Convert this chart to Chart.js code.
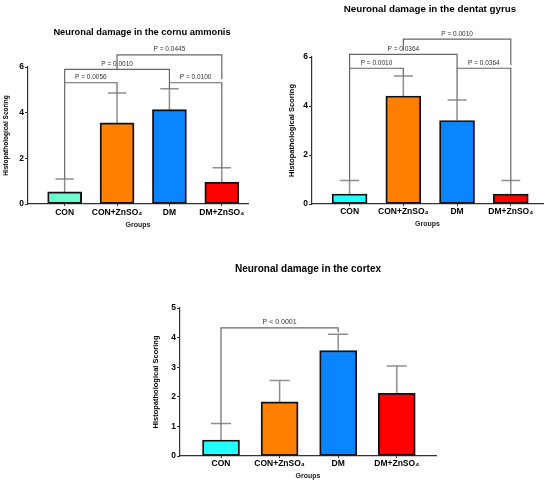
<!DOCTYPE html>
<html>
<head>
<meta charset="utf-8">
<script src="https://cdn.jsdelivr.net/npm/chart.js@4.4.1/dist/chart.umd.min.js"></script>
<style>
    html, body { margin: 0; padding: 0; background: #fff; }
    #wrap { position: relative; width: 550px; height: 483px; overflow: hidden; }
    canvas { position: absolute; }
</style>
</head>
<body>
<div id="wrap">
    <canvas id="caChart" style="left:0;top:0;width:280px;height:232px"></canvas>
    <canvas id="dgChart" style="left:280px;top:0;width:270px;height:232px"></canvas>
    <canvas id="cxChart" style="left:150px;top:250px;width:300px;height:233px"></canvas>
</div>
<script>
const groups = ['CON', 'CON+ZnSO\u2084', 'DM', 'DM+ZnSO\u2084'];

// cornu ammonis
const caMeans = [0.53, 3.55, 4.13, 0.96];
const caSD = [0.57, 1.31, 0.92, 0.63];
const caColors = ['#6CF9D0', '#FF8000', '#0A84FF', '#FF0000'];
// [from, to, height, left leg bottom, right leg bottom, label]
const caBrackets = [
    [0, 1, 5.31, 1.10, 4.86, 'P = 0.0056'],
    [0, 2, 5.90, 5.31, 5.31, 'P = 0.0010'],
    [2, 3, 5.31, 5.05, 1.59, 'P = 0.0100'],
    [1, 3, 6.53, 5.90, 5.46, 'P = 0.0445']
];

// dentat gyrus
const dgMeans = [0.41, 4.41, 3.41, 0.41];
const dgSD = [0.55, 0.81, 0.83, 0.55];
const dgColors = ['#22FFFF', '#FF8000', '#0A84FF', '#FF0000'];
const dgBrackets = [
    [0, 1, 5.54, 0.96, 5.22, 'P = 0.0010'],
    [0, 2, 6.11, 5.54, 5.54, 'P = 0.0364'],
    [2, 3, 5.54, 4.24, 0.96, 'P = 0.0364'],
    [1, 3, 6.73, 6.28, 5.67, 'P = 0.0010']
];

// cortex
const cxMeans = [0.54, 1.83, 3.56, 2.12];
const cxSD = [0.56, 0.72, 0.55, 0.92];
const cxColors = ['#22FFFF', '#FF8000', '#0A84FF', '#FF0000'];
const cxBrackets = [
    [0, 2, 4.33, 1.10, 4.18, 'P < 0.0001']
];

const FONT = "'Liberation Sans', Arial, sans-serif";

// error bars: mean -> mean + SD, gray with a cap
const errorBars = {
    id: 'errorBars',
    beforeDatasetsDraw(chart) {
        const ctx = chart.ctx;
        const y = chart.scales.y;
        const ds = chart.data.datasets[0];
        const meta = chart.getDatasetMeta(0);
        ctx.save();
        ctx.strokeStyle = '#8e8e8e';
        ctx.lineWidth = 1.5;
        meta.data.forEach(function(bar, i) {
            const top = y.getPixelForValue(ds.data[i].y + ds.sd[i]);
            const half = bar.width * 0.27;
            ctx.beginPath();
            ctx.moveTo(bar.x, bar.y);
            ctx.lineTo(bar.x, top);
            ctx.moveTo(bar.x - half, top);
            ctx.lineTo(bar.x + half, top);
            ctx.stroke();
        });
        ctx.restore();
    }
};

// significance brackets
const brackets = {
    id: 'brackets',
    afterDatasetsDraw(chart) {
        const ctx = chart.ctx;
        const x = chart.scales.x;
        const y = chart.scales.y;
        const ds = chart.data.datasets[0];
        ctx.save();
        ctx.strokeStyle = '#666';
        ctx.lineWidth = 1.2;
        ctx.fillStyle = '#333';
        ctx.font = ds.pFont + 'px ' + FONT;
        ctx.textAlign = 'center';
        ctx.textBaseline = 'bottom';
        ds.brackets.forEach(function(b) {
            const x1 = x.getPixelForValue(b[0]);
            const x2 = x.getPixelForValue(b[1]);
            const h = y.getPixelForValue(b[2]);
            ctx.beginPath();
            ctx.moveTo(x1, y.getPixelForValue(b[3]));
            ctx.lineTo(x1, h);
            ctx.lineTo(x2, h);
            ctx.lineTo(x2, y.getPixelForValue(b[4]));
            ctx.stroke();
            ctx.fillText(b[5], (x1 + x2) / 2, h - 2);
        });
        ctx.restore();
    }
};

// panel title
const panelTitle = {
    id: 'panelTitle',
    afterDraw(chart, args, opts) {
        const ctx = chart.ctx;
        ctx.save();
        ctx.fillStyle = '#000';
        ctx.font = 'bold ' + opts.size + 'px ' + FONT;
        ctx.textAlign = 'center';
        ctx.textBaseline = 'middle';
        ctx.fillText(opts.text, opts.x, opts.y);
        ctx.restore();
    }
};

function makeChart(id, p) {
    const canvas = document.getElementById(id);
    canvas.width = p.w;
    canvas.height = p.h;
    return new Chart(canvas.getContext('2d'), {
        type: 'bar',
        data: {
            datasets: [{
                data: p.means.map(function(v, i) { return { x: i, y: v }; }),
                sd: p.sd,
                brackets: p.brackets,
                pFont: p.pFont,
                backgroundColor: p.colors,
                borderColor: '#111',
                borderWidth: 1.9,
                borderSkipped: false,
                barThickness: p.barW
            }]
        },
        plugins: [errorBars, brackets, panelTitle],
        options: {
            responsive: false,
            animation: false,
            layout: { padding: p.padding },
            scales: {
                x: {
                    type: 'linear',
                    min: -0.7,
                    max: p.xMax,
                    offset: false,
                    afterBuildTicks: function(s) {
                        s.ticks = groups.map(function(g, i) { return { value: i }; });
                    },
                    afterFit: function(s) { s.height = p.xH; },
                    ticks: {
                        callback: function(v) { return groups[v]; },
                        autoSkip: false,
                        maxRotation: 0,
                        color: '#000',
                        padding: p.xPad,
                        font: { family: FONT, size: 8.5, weight: 'bold' }
                    },
                    grid: { offset: false, drawOnChartArea: false, drawTicks: true, tickLength: 2, color: '#333' },
                    border: { color: '#333', width: 1.2 },
                    title: {
                        display: true,
                        text: 'Groups',
                        color: '#222',
                        font: { family: FONT, size: 7, weight: 'bold' },
                        padding: { top: 0, bottom: p.groupsPad }
                    }
                },
                y: {
                    min: 0,
                    max: p.yMax,
                    afterFit: function(s) { s.width = p.yW; },
                    ticks: {
                        stepSize: p.step,
                        color: '#000',
                        padding: 1,
                        font: { family: FONT, size: 8.5, weight: 'bold' }
                    },
                    grid: { drawOnChartArea: false, drawTicks: true, tickLength: 3, color: '#333' },
                    border: { color: '#333', width: 1.2 },
                    title: {
                        display: true,
                        text: 'Histopathological Scoring',
                        color: '#000',
                        font: { family: FONT, size: p.yTitleSize, weight: 'bold' },
                        padding: { top: p.yTitlePad, bottom: 0 }
                    }
                }
            },
            plugins: {
                legend: { display: false },
                tooltip: { enabled: false },
                panelTitle: { text: p.title, x: p.tx, y: p.ty, size: p.titleSize }
            }
        }
    });
}

document.addEventListener('DOMContentLoaded', function() {
    makeChart('caChart', {
        w: 280, h: 232, means: caMeans, sd: caSD, colors: caColors, brackets: caBrackets,
        title: 'Neuronal damage in the cornu ammonis', tx: 142, ty: 32, titleSize: 9.3,
        padding: { left: 0, top: 67, right: 32, bottom: 0 },
        xMax: 3.5, xH: 28, xPad: 2, groupsPad: 3, barW: 34,
        yMax: 6, step: 2, yW: 28, yTitleSize: 6.5, yTitlePad: 2, pFont: 6.5
    });
    makeChart('dgChart', {
        w: 270, h: 232, means: dgMeans, sd: dgSD, colors: dgColors, brackets: dgBrackets,
        title: 'Neuronal damage in the dentat gyrus', tx: 150, ty: 9, titleSize: 9.8,
        padding: { left: 0, top: 57, right: 7, bottom: 0 },
        xMax: 3.6, xH: 28, xPad: 1, groupsPad: 4, barW: 35,
        yMax: 6, step: 2, yW: 32, yTitleSize: 7.5, yTitlePad: 7, pFont: 6.5
    });
    makeChart('cxChart', {
        w: 300, h: 233, means: cxMeans, sd: cxSD, colors: cxColors, brackets: cxBrackets,
        title: 'Neuronal damage in the cortex', tx: 158, ty: 19, titleSize: 10,
        padding: { left: 0, top: 58, right: 14, bottom: 0 },
        xMax: 3.67, xH: 27, xPad: 1, groupsPad: 3, barW: 37,
        yMax: 5, step: 1, yW: 30, yTitleSize: 7.5, yTitlePad: 1, pFont: 7
    });
});
</script>
</body>
</html>
